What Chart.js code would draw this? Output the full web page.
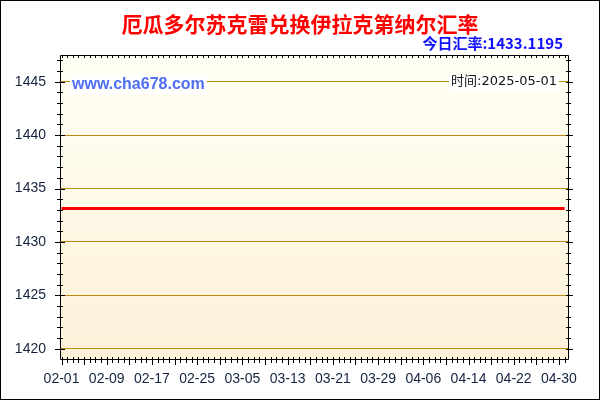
<!DOCTYPE html>
<html>
<head>
<meta charset="utf-8">
<script src="https://cdn.jsdelivr.net/npm/chart.js@4.4.1/dist/chart.umd.min.js"></script>
<style>
  html, body { margin: 0; padding: 0; background: #fff; }
  #wrap { width: 600px; height: 400px; position: relative; }
</style>
</head>
<body>
<div id="wrap"><canvas id="c" width="600" height="400"></canvas></div>
<script>
// 厄瓜多尔苏克雷 -> 伊拉克第纳尔, daily rate 2025-02-01 .. 2025-05-01
var titleText = '厄瓜多尔苏克雷兑换伊拉克第纳尔汇率';
var todayText = '今日汇率:1433.1195';
var siteText = 'www.cha678.com';
var timeText = '时间:2025-05-01';

var dates = [
  '02-01','02-02','02-03','02-04','02-05','02-06','02-07','02-08','02-09','02-10',
  '02-11','02-12','02-13','02-14','02-15','02-16','02-17','02-18','02-19','02-20',
  '02-21','02-22','02-23','02-24','02-25','02-26','02-27','02-28','03-01','03-02',
  '03-03','03-04','03-05','03-06','03-07','03-08','03-09','03-10','03-11','03-12',
  '03-13','03-14','03-15','03-16','03-17','03-18','03-19','03-20','03-21','03-22',
  '03-23','03-24','03-25','03-26','03-27','03-28','03-29','03-30','03-31','04-01',
  '04-02','04-03','04-04','04-05','04-06','04-07','04-08','04-09','04-10','04-11',
  '04-12','04-13','04-14','04-15','04-16','04-17','04-18','04-19','04-20','04-21',
  '04-22','04-23','04-24','04-25','04-26','04-27','04-28','04-29','04-30','05-01'
];
var rates = [
  1433.1195,1433.1195,1433.1195,1433.1195,1433.1195,1433.1195,1433.1195,1433.1195,1433.1195,1433.1195,
  1433.1195,1433.1195,1433.1195,1433.1195,1433.1195,1433.1195,1433.1195,1433.1195,1433.1195,1433.1195,
  1433.1195,1433.1195,1433.1195,1433.1195,1433.1195,1433.1195,1433.1195,1433.1195,1433.1195,1433.1195,
  1433.1195,1433.1195,1433.1195,1433.1195,1433.1195,1433.1195,1433.1195,1433.1195,1433.1195,1433.1195,
  1433.1195,1433.1195,1433.1195,1433.1195,1433.1195,1433.1195,1433.1195,1433.1195,1433.1195,1433.1195,
  1433.1195,1433.1195,1433.1195,1433.1195,1433.1195,1433.1195,1433.1195,1433.1195,1433.1195,1433.1195,
  1433.1195,1433.1195,1433.1195,1433.1195,1433.1195,1433.1195,1433.1195,1433.1195,1433.1195,1433.1195,
  1433.1195,1433.1195,1433.1195,1433.1195,1433.1195,1433.1195,1433.1195,1433.1195,1433.1195,1433.1195,
  1433.1195,1433.1195,1433.1195,1433.1195,1433.1195,1433.1195,1433.1195,1433.1195,1433.1195,1433.1195
];
var xTickLabels = ['02-01','02-09','02-17','02-25','03-05','03-13','03-21','03-29','04-06','04-14','04-22','04-30'];
var yTicks = [1420, 1425, 1430, 1435, 1440, 1445];

var gridColor = '#bb8a14', tickInk = '#000', labelInk = '#13233f';
var latin = '"Liberation Sans", Arial, sans-serif';
var cjk = '"Noto Sans CJK SC", "Liberation Sans", sans-serif';

// background, border, minor/major ticks and the captions
var decor = {
  id: 'decor',
  beforeDraw: function (chart) {
    var ctx = chart.ctx, a = chart.chartArea;
    ctx.save();
    ctx.fillStyle = '#fff';
    ctx.fillRect(0, 0, chart.width, chart.height);
    var g = ctx.createLinearGradient(0, a.top, 0, a.bottom);
    g.addColorStop(0, '#fffff4');
    g.addColorStop(1, '#fdf1d9');
    ctx.fillStyle = g;
    ctx.fillRect(a.left, a.top, a.right - a.left, a.bottom - a.top);
    ctx.restore();
  },
  beforeDatasetsDraw: function (chart) {
    // caption boxes sit over the grid, under the data line
    var ctx = chart.ctx;
    ctx.save();
    ctx.textBaseline = 'middle';
    ctx.font = 'bold 16px ' + latin;
    var w = ctx.measureText(siteText).width;
    ctx.fillStyle = '#ffffff';
    ctx.fillRect(70, 75, w + 4, 19);
    ctx.fillStyle = '#4f6ef2';
    ctx.textAlign = 'left';
    ctx.fillText(siteText, 72, 85);

    ctx.font = '13px "DejaVu Sans", "Noto Sans CJK SC", sans-serif';
    w = ctx.measureText(timeText).width;
    ctx.fillStyle = '#ffffff';
    ctx.fillRect(557 - w - 2, 74, w + 4, 16);
    ctx.fillStyle = '#111';
    ctx.textAlign = 'right';
    ctx.fillText(timeText, 557, 82);
    ctx.restore();
  },
  afterDraw: function (chart) {
    var ctx = chart.ctx, a = chart.chartArea;
    var xs = chart.scales.x, ys = chart.scales.y;
    ctx.save();
    ctx.strokeStyle = tickInk;
    ctx.lineWidth = 1;
    ctx.beginPath();
    // frame of plot
    ctx.rect(Math.round(a.left) + 0.5, Math.round(a.top) + 0.5,
             Math.round(a.right - a.left), Math.round(a.bottom - a.top));
    // y ticks, every unit; longer at multiples of 5
    for (var v = 1420; v <= 1447; v++) {
      var y = Math.round(ys.getPixelForValue(v)) + 0.5;
      var big = v % 5 === 0 ? 5 : 3;
      ctx.moveTo(a.left - big, y); ctx.lineTo(a.left + big, y);
      ctx.moveTo(a.right - 2, y); ctx.lineTo(a.right + big, y);
    }
    // x ticks, every day; longer every 4 days
    for (var i = 0; i < dates.length; i++) {
      var x = Math.round(xs.getPixelForValue(i)) + 0.5;
      var len = i % 4 === 0 ? 6 : 4;
      ctx.moveTo(x, a.bottom - 2); ctx.lineTo(x, a.bottom + len);
      ctx.moveTo(x, a.top); ctx.lineTo(x, a.top + 3);
    }
    ctx.stroke();
    // outer border
    ctx.strokeRect(0.5, 0.5, chart.width - 1, chart.height - 1);

    // title and today's rate
    ctx.textBaseline = 'middle';
    ctx.textAlign = 'center';
    ctx.fillStyle = '#ff0000';
    ctx.font = 'bold 21px ' + cjk;
    ctx.fillText(titleText, 300, 24);
    ctx.textAlign = 'right';
    ctx.fillStyle = '#1010ff';
    ctx.font = 'bold 15px ' + cjk;
    ctx.fillText(todayText, 563, 43);
    ctx.restore();
  }
};

new Chart(document.getElementById('c'), {
  type: 'line',
  data: {
    labels: dates,
    datasets: [{
      data: rates.map(function (r, i) { return { x: i, y: r }; }),
      borderColor: '#ff0000',
      borderWidth: 3,
      pointRadius: 0,
      fill: false,
      tension: 0
    }]
  },
  options: {
    responsive: false,
    animation: false,
    devicePixelRatio: 1,
    layout: { padding: { top: 55, right: 32, left: 0, bottom: 0 } },
    plugins: { legend: { display: false }, tooltip: { enabled: false }, title: { display: false } },
    scales: {
      x: {
        type: 'linear',
        min: -0.27,
        max: 89.6,
        afterBuildTicks: function (s) {
          s.ticks = xTickLabels.map(function (l) { return { value: dates.indexOf(l) }; });
        },
        afterFit: function (s) { s.height = 41; },
        grid: { display: false, drawTicks: false },
        border: { display: false },
        ticks: {
          autoSkip: false,
          maxRotation: 0,
          padding: 12,
          color: labelInk,
          font: { family: latin, size: 14 },
          callback: function (v) { return dates[v]; }
        }
      },
      y: {
        min: 1419.04,
        max: 1447.5,
        afterBuildTicks: function (s) {
          s.ticks = yTicks.map(function (v) { return { value: v }; });
        },
        afterFit: function (s) { s.width = 60; },
        grid: { color: gridColor, drawTicks: false, lineWidth: 1 },
        border: { display: false },
        ticks: {
          padding: 14,
          color: labelInk,
          font: { family: latin, size: 14 },
          callback: function (v) { return String(v); }
        }
      }
    }
  },
  plugins: [decor]
});
</script>
</body>
</html>
